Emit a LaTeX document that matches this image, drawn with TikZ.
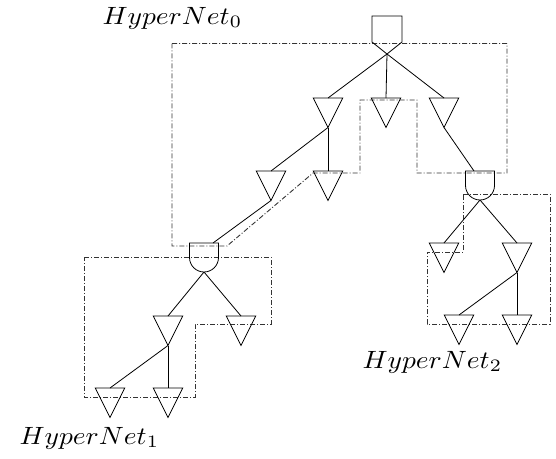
\documentclass[tikz,border=0pt]{standalone}
\usetikzlibrary{shapes.geometric,shapes.misc,calc}
\newcommand\hnlabel[1]{$HyperNet_{#1}$}
\begin{document}
\begin{tikzpicture}[x=1pt,y=-1pt,
  tri/.style={draw, line width=0.8pt, isosceles triangle, shape border rotate=270,
    isosceles triangle stretches, minimum width=29.5pt, minimum height=29.5pt,
    inner sep=0pt, outer sep=0pt, anchor=north},
  gatebox/.style={draw, line width=0.8pt, rounded rectangle, rounded rectangle west arc=none,
    rotate=-90, minimum width=28pt, minimum height=29pt, inner sep=0pt, outer sep=0pt, anchor=west},
  rootbox/.style={rectangle, minimum width=30pt, minimum height=38pt,
    inner sep=0pt, outer sep=0pt, anchor=north},
  link/.style={line width=0.8pt},
  hyper/.style={draw=black!80, line width=0.9pt, dash pattern=on 5pt off 2pt on 1pt off 2pt},
  lbl/.style={anchor=base west, inner sep=0pt, xscale=2.75, yscale=2.5, transform shape}]
\useasboundingbox (0,0) rectangle (556,458);

% hypernet regions
\draw[hyper] (172,43.5) -- (507,43.5) -- (507,173) -- (417,173) -- (417,100) -- (360,100)
  -- (360,173) -- (313,173) -- (227,246) -- (172,246) -- cycle;
\draw[hyper] (84,257) -- (271,257) -- (271,324) -- (195,324) -- (195,397) -- (84,397) -- cycle;
\draw[hyper] (463,194) -- (550,194) -- (550,324) -- (427,324) -- (427,252) -- (463,252) -- cycle;

% nodes
\node[rootbox] (root) at (387,16) {};
\draw[link, line join=miter] (root.north west) -- (root.north east)
  -- ($(root.north east)+(0,26)$) -- (root.south) -- ($(root.north west)+(0,26)$) -- cycle;
\node[tri] (a) at (328,98) {};
\node[tri] (b) at (386,98) {};
\node[tri] (c) at (444,98) {};
\node[tri] (d) at (271,171) {};
\node[tri] (e) at (328,171) {};
\node[gatebox] (g1) at (204,243) {};
\node[tri] (f) at (168,316) {};
\node[tri] (h) at (241,316) {};
\node[tri] (i) at (110,388) {};
\node[tri] (j) at (168,388) {};
\node[gatebox] (g2) at (480,171) {};
\node[tri] (k) at (444,243) {};
\node[tri] (l) at (517,243) {};
\node[tri] (m) at (459,315) {};
\node[tri] (n) at (517,315) {};

% connectors
\draw[link] (root.south) -- (a.north);
\draw[link] (root.south) -- (b.north);
\draw[link] (root.south) -- (c.north);
\draw[link] (a.south) -- (d.north);
\draw[link] (a.south) -- (e.north);
\draw[link] (d.south) -- ($(g1.west)+(9,0)$);
\draw[link] (c.south) -- ($(g2.west)+(-6,0)$);
\draw[link] (g1.east) -- (f.north);
\draw[link] (g1.east) -- (h.north);
\draw[link] (f.south) -- (i.north);
\draw[link] (f.south) -- (j.north);
\draw[link] (g2.east) -- (k.north);
\draw[link] (g2.east) -- (l.north);
\draw[link] (l.south) -- (m.north);
\draw[link] (l.south) -- (n.north);

% labels
\node[lbl] (l0) at (102,24) {\hnlabel{0}};
\node[lbl] (l1) at (19,444) {\hnlabel{1}};
\node[lbl] (l2) at (362,368) {\hnlabel{2}};
\end{tikzpicture}
\end{document}
